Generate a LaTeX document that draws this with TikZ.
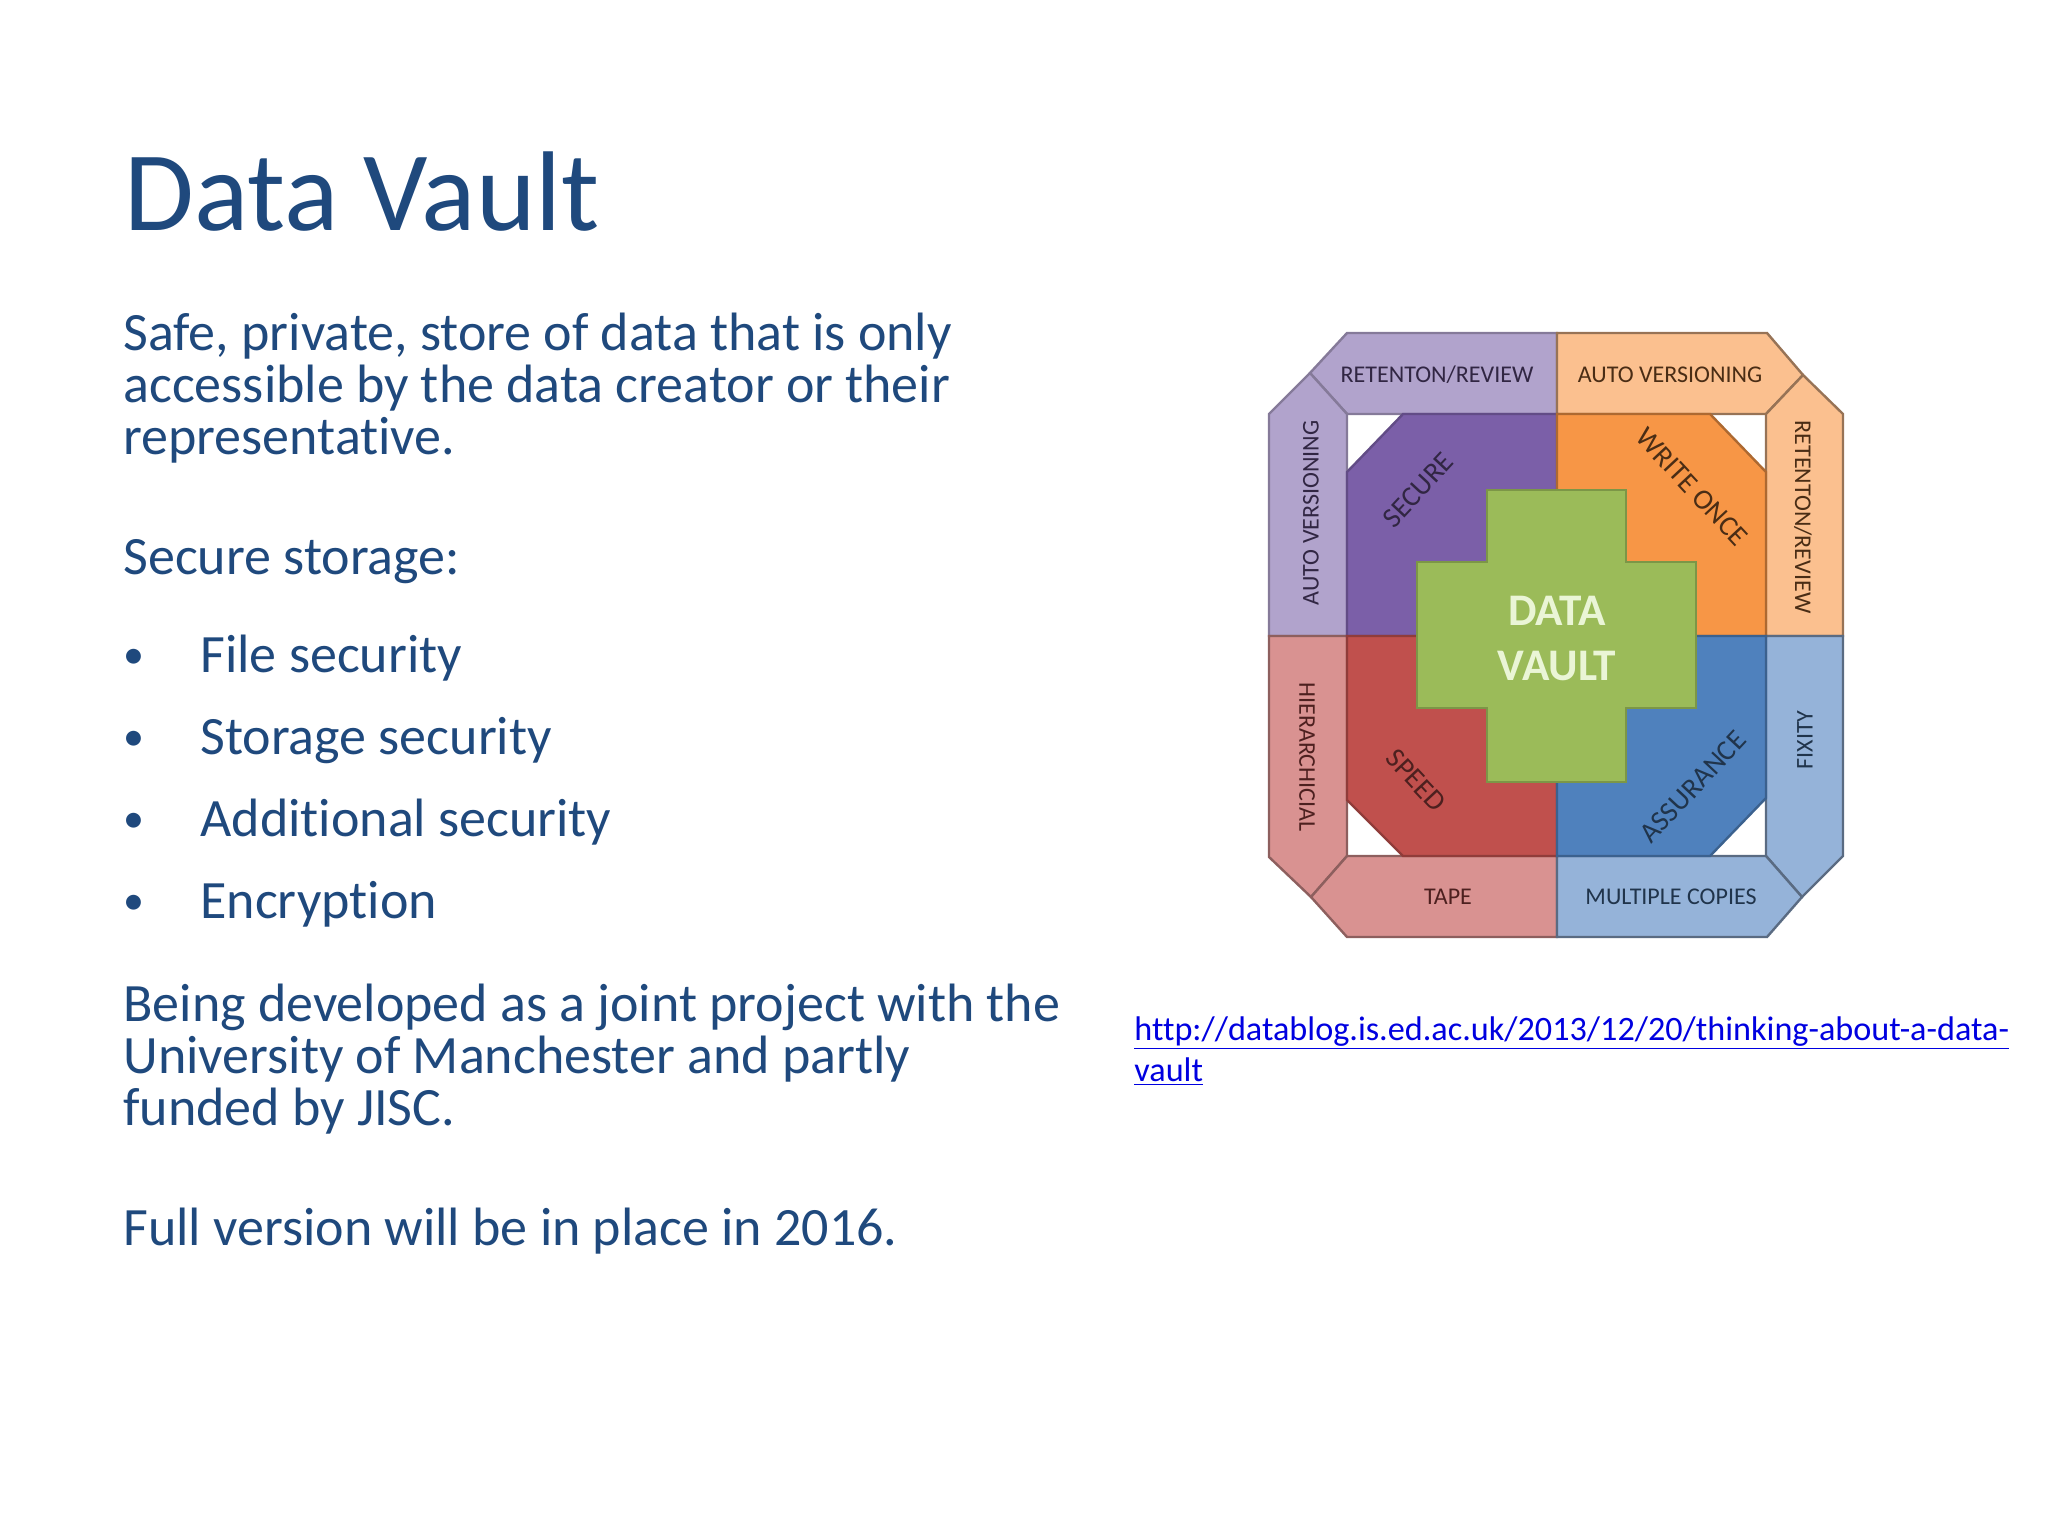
\documentclass[tikz,border=0pt]{standalone}
\usepackage{fontspec}
\setmainfont[Ligatures=NoCommon]{Carlito}
\usepackage{xcolor}
\definecolor{slideblue}{HTML}{1F497D}
\definecolor{linkblue}{HTML}{0000E0}
\definecolor{purpleband}{HTML}{B1A3CC}
\definecolor{purplequad}{HTML}{7B5FA8}
\definecolor{orangeband}{HTML}{FBC08F}
\definecolor{orangequad}{HTML}{F79646}
\definecolor{redband}{HTML}{D99291}
\definecolor{redquad}{HTML}{C0504D}
\definecolor{blueband}{HTML}{95B3D9}
\definecolor{bluequad}{HTML}{4F81BD}
\definecolor{crossgreen}{HTML}{9BBB59}
\definecolor{palegreen}{HTML}{EAF5D6}
\tikzset{
  para/.style={anchor=base west, inner sep=0pt, align=left, text=slideblue,
    font=\fontsize{27}{26}\selectfont},
  dotmark/.style={para, font=\fontsize{21}{24}\selectfont},
  tag/.style={inner sep=0pt, font=\fontsize{12}{14}\selectfont},
  quadtag/.style={inner sep=0pt, font=\fontsize{14.3}{16}\selectfont},
  big/.style={inner sep=0pt, text=palegreen, font=\fontsize{22.6}{24}\selectfont\bfseries},
}
\begin{document}
\begin{tikzpicture}[x=0.5pt,y=-0.5pt]
\useasboundingbox (0,0) rectangle (2048,1536);

% Title
\node[para, font=\fontsize{56.7}{60}\selectfont] (title) at (124,230) {Data Vault};

% Left column
\node[para] (intro) at (123,454) {Safe, private, store of data that is only\\accessible by the data creator or their\\representative.};
\node[para] (storage) at (123,574) {Secure storage:};

\node[dotmark] (dota) at (123,668) {•};
\node[para] (filesec) at (200,672) {File security};
\node[dotmark] (dotb) at (123,750) {•};
\node[para] (storesec) at (200,754) {Storage security};
\node[dotmark] (dotc) at (123,832) {•};
\node[para] (addsec) at (200,836) {Additional security};
\node[dotmark] (dotd) at (123,914) {•};
\node[para] (encrypt) at (200,918) {Encryption};

\node[para] (joint) at (123,1125) {Being developed as a joint project with the\\University of Manchester and partly\\funded by JISC.};
\node[para] (fullver) at (123,1245) {Full version will be in place in 2016.};

% Link
\node[para, text=linkblue, font=\fontsize{17.1}{20.4}\selectfont] (link) at (1134,1081) {\underline{http://datablog.is.ed.ac.uk/2013/12/20/thinking-about-a-data-}\\\underline{vault}};

% Outer bands
\draw[purpleband!75!black, line width=1.2pt, fill=purpleband] (1347,333) -- (1557,333) -- (1557,414) -- (1347,414) -- (1310,373) -- cycle;
\draw[purpleband!75!black, line width=1.2pt, fill=purpleband] (1269,414) -- (1310,373) -- (1347,414) -- (1347,636) -- (1269,636) -- cycle;
\draw[orangeband!60!black, line width=1.2pt, fill=orangeband] (1557,333) -- (1767,333) -- (1803,375) -- (1766,414) -- (1557,414) -- cycle;
\draw[orangeband!60!black, line width=1.2pt, fill=orangeband] (1803,375) -- (1843,414) -- (1843,636) -- (1766,636) -- (1766,414) -- cycle;
\draw[redband!65!black, line width=1.2pt, fill=redband] (1269,636) -- (1347,636) -- (1347,856) -- (1311,897) -- (1269,857) -- cycle;
\draw[redband!65!black, line width=1.2pt, fill=redband] (1347,856) -- (1557,856) -- (1557,937) -- (1347,937) -- (1311,897) -- cycle;
\draw[blueband!60!black, line width=1.2pt, fill=blueband] (1766,636) -- (1843,636) -- (1843,856) -- (1802,897) -- (1766,856) -- cycle;
\draw[blueband!60!black, line width=1.2pt, fill=blueband] (1557,856) -- (1766,856) -- (1802,897) -- (1767,937) -- (1557,937) -- cycle;

% Quadrants
\draw[purplequad!80!black, line width=1.2pt, fill=purplequad] (1403,414) -- (1557,414) -- (1557,636) -- (1347,636) -- (1347,472) -- cycle;
\draw[orangequad!70!black, line width=1.2pt, fill=orangequad] (1557,414) -- (1710,414) -- (1766,472) -- (1766,636) -- (1557,636) -- cycle;
\draw[redquad!75!black, line width=1.2pt, fill=redquad] (1347,636) -- (1557,636) -- (1557,856) -- (1403,856) -- (1347,800) -- cycle;
\draw[bluequad!75!black, line width=1.2pt, fill=bluequad] (1557,636) -- (1766,636) -- (1766,798) -- (1710,856) -- (1557,856) -- cycle;

% Cross
\draw[crossgreen!80!black, line width=1.2pt, fill=crossgreen] (1487,490) -- (1626,490) -- (1626,562) -- (1696,562) -- (1696,708) -- (1626,708) -- (1626,782) -- (1487,782) -- (1487,708) -- (1417,708) -- (1417,562) -- (1487,562) -- cycle;
\node[big] (data) at (1557,611) {DATA};
\node[big] (vault) at (1557,666) {VAULT};

% Band labels
\node[tag, text=purplequad!40!black] (retentop) at (1437,375) {RETENTON/REVIEW};
\node[tag, text=purplequad!40!black, rotate=90] (autoleft) at (1311,513) {AUTO VERSIONING};
\node[tag, text=orangequad!30!black] (autotop) at (1670,375) {AUTO VERSIONING};
\node[tag, text=orangequad!30!black, rotate=-90] (retenright) at (1803,517) {RETENTON/REVIEW};
\node[tag, text=redquad!40!black, rotate=-90] (hier) at (1307,757) {HIERARCHICIAL};
\node[tag, text=redquad!40!black] (tape) at (1448,897) {TAPE};
\node[tag, text=bluequad!40!black, rotate=90] (fixity) at (1805,740) {FIXITY};
\node[tag, text=bluequad!40!black] (copies) at (1671,897) {MULTIPLE COPIES};

% Quadrant labels
\node[quadtag, text=purplequad!40!black, rotate=47] (secure) at (1418,490) {SECURE};
\node[quadtag, text=orangequad!30!black, rotate=-47] (writeonce) at (1692,487) {WRITE ONCE};
\node[quadtag, text=redquad!40!black, rotate=-47] (speed) at (1416,780) {SPEED};
\node[quadtag, text=bluequad!40!black, rotate=47] (assurance) at (1693,787) {ASSURANCE};
\end{tikzpicture}
\end{document}
